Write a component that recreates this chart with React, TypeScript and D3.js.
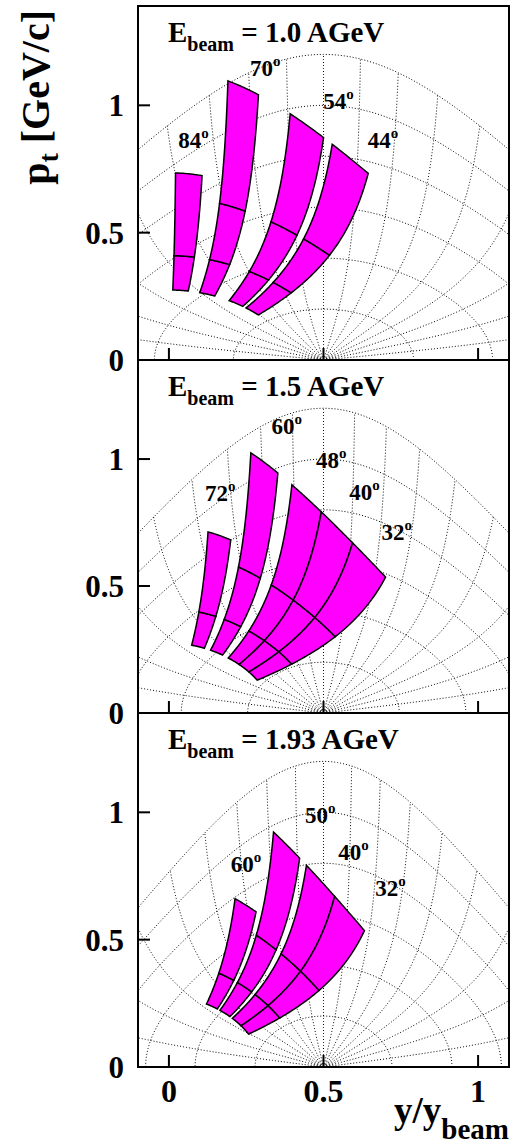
import React from "react";
import * as d3 from "d3";

// ---------- data ----------
const BEAM_ENERGIES = [1.0, 1.5, 1.93]; // AGeV kinetic
const BEAM_LABELS = ["1.0", "1.5", "1.93"];
const BAND_ANGLES = [
  [84, 70, 54, 44],
  [72, 60, 48, 40, 32],
  [60, 50, 40, 32],
];
const SHORT_BANDS = [84, 72, 60]; // leftmost band of each panel (reduced momentum range)
const BAND_HALF_WIDTH = 4; // degrees
const P_BINS_FULL = [0.275, 0.41, 0.64, 1.14];
const P_BINS_SHORT = [0.275, 0.41, 0.735];
const ANGLE_LABELS = [
  [
    { t: "84", x: 0.03, pt: 0.834 },
    { t: "70", x: 0.262, pt: 1.115 },
    { t: "54", x: 0.4995, pt: 0.984 },
    { t: "44", x: 0.643, pt: 0.834 },
  ],
  [
    { t: "60", x: 0.332, pt: 1.1 },
    { t: "48", x: 0.476, pt: 0.963 },
    { t: "72", x: 0.1165, pt: 0.835 },
    { t: "40", x: 0.5835, pt: 0.838 },
    { t: "32", x: 0.688, pt: 0.6825 },
  ],
  [
    { t: "50", x: 0.44, pt: 0.958 },
    { t: "60", x: 0.1996, pt: 0.766 },
    { t: "40", x: 0.548, pt: 0.812 },
    { t: "32", x: 0.667, pt: 0.671 },
  ],
];
const GRID_P = [0.2, 0.4, 0.6, 0.8, 1.0, 1.2];
const GRID_THETA = [10, 20, 30, 40, 50, 60, 70, 80, 90, 100, 110, 120, 130, 140, 150, 160, 170];
const X_TICKS = [0, 0.5, 1];
const Y_TICKS = [0, 0.5, 1];
const X_DOMAIN = [-0.1, 1.1];
const Y_DOMAIN = [0, 1.39];

const M_K = 0.4937;
const M_N = 0.938;
const DEG = Math.PI / 180;
const FONT = "'Liberation Serif', 'Times New Roman', serif";

function yBeam(T: number) {
  return Math.acosh(1 + T / M_N);
}
function kin(p: number, thDeg: number) {
  const th = thDeg * DEG;
  const E = Math.sqrt(p * p + M_K * M_K);
  return { y: Math.atanh((p * Math.cos(th)) / E), pt: p * Math.sin(th) };
}
function labPt(p: number, th: number, yb: number): [number, number] {
  const k = kin(p, th);
  return [k.y / yb, k.pt];
}
function cmPt(p: number, th: number, yb: number): [number, number] {
  const k = kin(p, th);
  return [0.5 + k.y / yb, k.pt];
}

const LEFT = 138;
const RIGHT = 509;
const PANEL_TOPS = [6, 360, 713];
const PANEL_BOTTOMS = [360, 713, 1067];

function Panel({ i }: { i: number }) {
  const top = PANEL_TOPS[i];
  const bottom = PANEL_BOTTOMS[i];
  const yb = yBeam(BEAM_ENERGIES[i]);
  const x = d3.scaleLinear().domain(X_DOMAIN).range([LEFT, RIGHT]);
  const y = d3.scaleLinear().domain(Y_DOMAIN).range([bottom, top]);
  const line = d3
    .line<[number, number]>()
    .x((d) => x(d[0]))
    .y((d) => y(d[1]));
  const clipId = `clip${i}`;

  const arcs = GRID_P.map((p) => d3.range(0, 180.01, 1).map((th) => cmPt(p, th, yb)));
  const rays = GRID_THETA.map((th) =>
    d3.range(0, 1.2001, 0.005).map((p) => cmPt(p, th, yb))
  );

  const cells: [number, number][][] = [];
  BAND_ANGLES[i].forEach((a) => {
    const bins = a === SHORT_BANDS[i] ? P_BINS_SHORT : P_BINS_FULL;
    const thLo = a - BAND_HALF_WIDTH;
    const thHi = a + BAND_HALF_WIDTH;
    for (let b = 0; b < bins.length - 1; b++) {
      const pa = bins[b];
      const pb = bins[b + 1];
      const pts: [number, number][] = [];
      const n = 24;
      for (let k = 0; k <= n; k++) pts.push(labPt(pa, thLo + ((thHi - thLo) * k) / n, yb));
      for (let k = 1; k <= n; k++) pts.push(labPt(pa + ((pb - pa) * k) / n, thHi, yb));
      for (let k = 1; k <= n; k++) pts.push(labPt(pb, thHi - ((thHi - thLo) * k) / n, yb));
      for (let k = 1; k < n; k++) pts.push(labPt(pb - ((pb - pa) * k) / n, thLo, yb));
      cells.push(pts);
    }
  });

  return (
    <g>
      <defs>
        <clipPath id={clipId}>
          <rect x={LEFT} y={top} width={RIGHT - LEFT} height={bottom - top} />
        </clipPath>
      </defs>
      <g clipPath={`url(#${clipId})`} fill="none" stroke="#000" strokeWidth={1} strokeDasharray="1 2">
        {arcs.map((a, k) => (
          <path key={"a" + k} d={line(a) || ""} />
        ))}
        {rays.map((r, k) => (
          <path key={"r" + k} d={line(r) || ""} />
        ))}
      </g>
      <g clipPath={`url(#${clipId})`}>
        {cells.map((c, k) => (
          <path key={"c" + k} d={(line(c) || "") + "Z"} fill="#ff00ff" stroke="#000" strokeWidth={1.5} strokeLinejoin="miter" />
        ))}
      </g>
      {/* ticks */}
      {X_TICKS.map((t) => (
        <line key={"xt" + t} x1={x(t)} x2={x(t)} y1={bottom} y2={bottom - 12} stroke="#000" strokeWidth={2} />
      ))}
      {Y_TICKS.filter((t) => t > 0).map((t) => (
        <line key={"yt" + t} x1={LEFT} x2={LEFT + 12} y1={y(t)} y2={y(t)} stroke="#000" strokeWidth={2} />
      ))}
      {Y_TICKS.map((t) => (
        <text key={"yl" + t} x={124} y={y(t)} dy="0.36em" textAnchor="end" fontFamily={FONT} fontWeight="bold" fontSize={31}>
          {String(t)}
        </text>
      ))}
      {/* frame */}
      <rect x={LEFT} y={top} width={RIGHT - LEFT} height={bottom - top} fill="none" stroke="#000" strokeWidth={2} />
      {/* title */}
      <text x={168} y={top + 36} fontFamily={FONT} fontWeight="bold" fontSize={29}>
        E
        <tspan fontSize={20} dy={9}>beam</tspan>
        <tspan dy={-9}>{` = ${BEAM_LABELS[i]} AGeV`}</tspan>
      </text>
      {ANGLE_LABELS[i].map((l, k) => (
        <text key={"al" + k} x={x(l.x)} y={y(l.pt)} fontFamily={FONT} fontWeight="bold" fontSize={23}>
          {l.t}
          <tspan fontSize={15} dy={-10}>o</tspan>
        </text>
      ))}
    </g>
  );
}

export default function App() {
  const x = d3.scaleLinear().domain(X_DOMAIN).range([LEFT, RIGHT]);
  return (
    <svg
      width={510}
      height={1145}
      style={{ position: "absolute", left: 0, top: 0, background: "#fff" }}
    >
      <rect x={0} y={0} width={510} height={1145} fill="#fff" />
      {BEAM_ENERGIES.map((_, i) => (
        <Panel key={i} i={i} />
      ))}
      {X_TICKS.map((t) => (
        <text key={"xl" + t} x={x(t)} y={1102} textAnchor="middle" fontFamily={FONT} fontWeight="bold" fontSize={32}>
          {String(t)}
        </text>
      ))}
      <text x={509} y={1123} textAnchor="end" fontFamily={FONT} fontWeight="bold" fontSize={37}>
        y/y
        <tspan fontSize={29} dy={16}>beam</tspan>
      </text>
      <text transform="translate(49,10) rotate(-90)" textAnchor="end" fontFamily={FONT} fontWeight="bold" fontSize={40}>
        p
        <tspan fontSize={28} dy={9}>t</tspan>
        <tspan dy={-9}> [GeV/c]</tspan>
      </text>
    </svg>
  );
}
